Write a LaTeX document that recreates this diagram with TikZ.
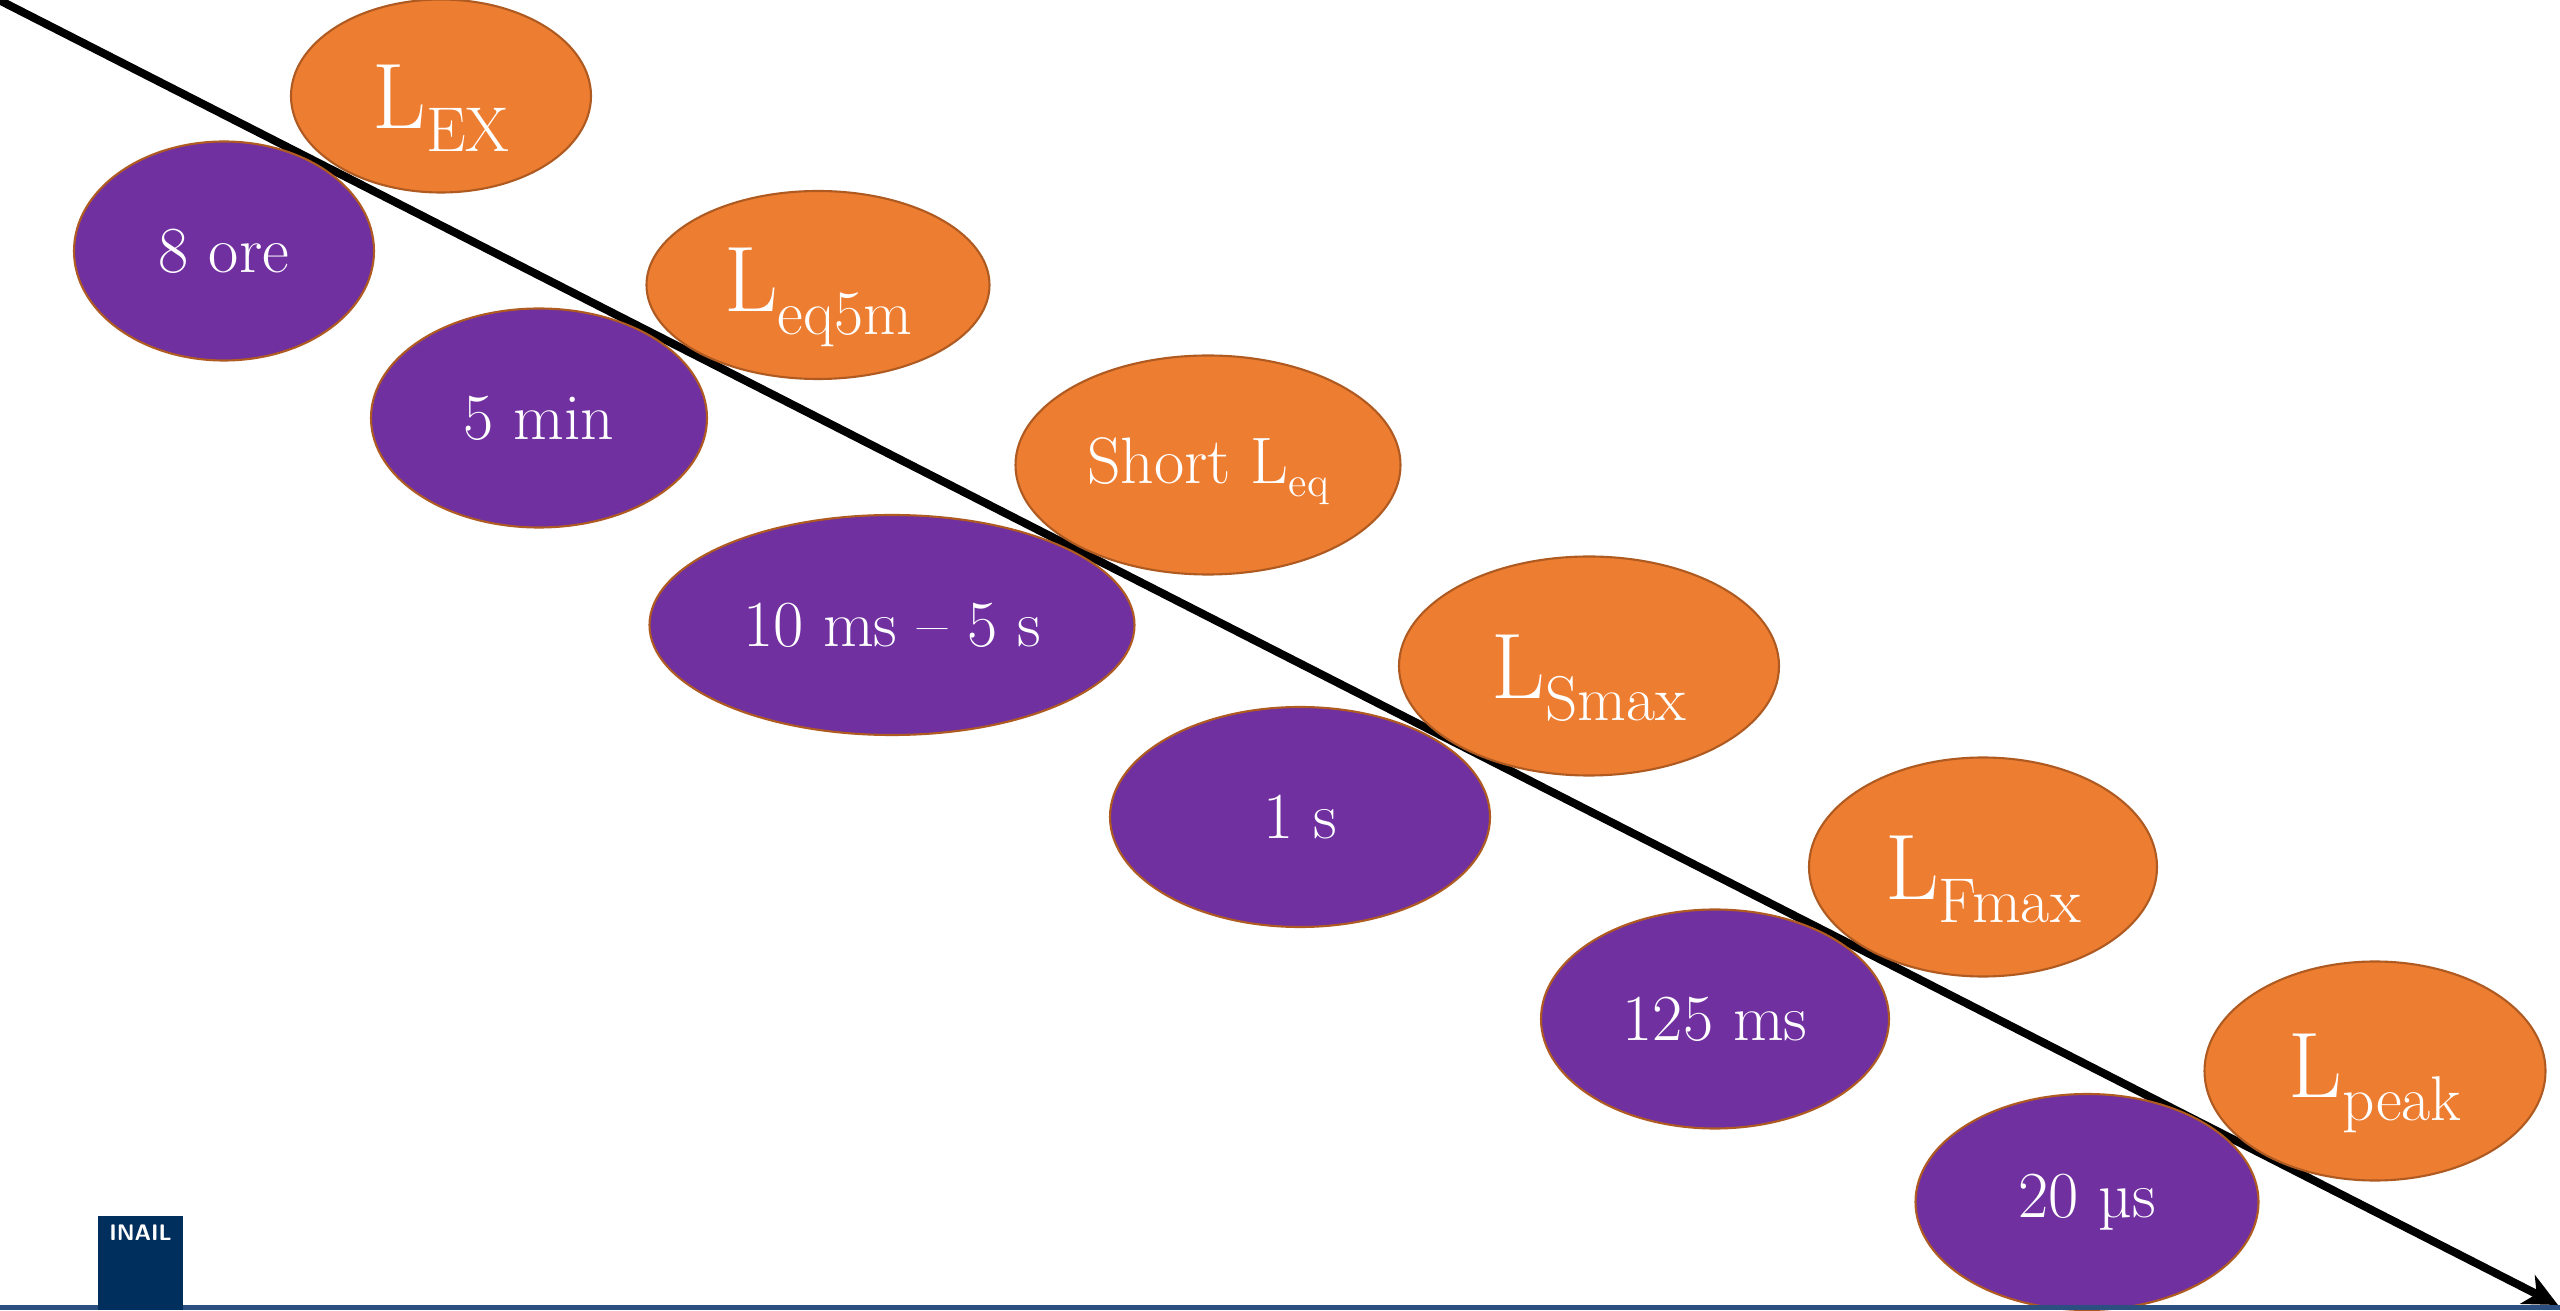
\documentclass[tikz,border=0pt]{standalone}
\usepackage{tikz}
\usepackage{xcolor}
\usetikzlibrary{
    shapes.geometric,
    arrows.meta
}
\definecolor{levelfill}{HTML}{ED7D31}
\definecolor{timefill}{HTML}{7030A0}
\definecolor{edge}{HTML}{AE5A21}
\definecolor{inail}{HTML}{002E5D}
\definecolor{rule}{HTML}{2A4F80}
% Level names: big letter with a lowered index
\newcommand{\levelname}[1]{\rule{0pt}{25pt}{\fontsize{26.5}{26.5}\selectfont L}\raisebox{-6.5pt}{\fontsize{18}{18}\selectfont #1}}
\tikzset{
    % Base bubble style
    bubble/.style={
        ellipse,
        inner sep=0pt,
        align=center,
        text=white,
        font=\fontsize{18.7}{18.7}\selectfont,
        draw=edge,
        line width=0.6pt
    },
    % Metric bubble
    level/.style={
        bubble,
        fill=levelfill
    },
    % Duration bubble
    duration/.style={
        bubble,
        fill=timefill
    },
    % Main arrow
    flow/.style={
        -{Stealth[length=3.4mm, width=3.2mm, inset=1mm]},
        line width=2.3pt,
        color=black
    }
}
\begin{document}
\begin{tikzpicture}
        \useasboundingbox (0, 0) rectangle (25.6, 13.1);

        % Time axis, below the bubbles
        \coordinate (start) at (-0.05, 13.12);
        \coordinate (tip) at (25.58, 0.05);
        \draw[flow] (start) -- (tip);

        % Levels
        \node[level, minimum width=3cm, minimum height=1.93cm] (lex) at (4.41, 12.14) {\levelname{EX}};
        \node[level, minimum width=3.43cm, minimum height=1.88cm] (leq) at (8.18, 10.25) {\levelname{eq5m}};
        \node[level, minimum width=3.85cm, minimum height=2.19cm] (short) at (12.08, 8.45) {\rule{0pt}{16.5pt}Short L\raisebox{-3.5pt}{\fontsize{12}{12}\selectfont eq}};
        \node[level, minimum width=3.8cm, minimum height=2.19cm] (smax) at (15.89, 6.44) {\levelname{Smax}};
        \node[level, minimum width=3.48cm, minimum height=2.19cm] (fmax) at (19.83, 4.43) {\levelname{Fmax}};
        \node[level, minimum width=3.41cm, minimum height=2.19cm] (peak) at (23.75, 2.39) {\levelname{peak}};

        % Durations
        \node[duration, minimum width=3cm, minimum height=2.19cm] (ore) at (2.24, 10.59) {8 ore};
        \node[duration, minimum width=3.36cm, minimum height=2.19cm] (min) at (5.39, 8.92) {5 min};
        \node[duration, minimum width=4.85cm, minimum height=2.2cm] (range) at (8.92, 6.85) {10 ms -- 5 s};
        \node[duration, minimum width=3.8cm, minimum height=2.2cm] (sec) at (13, 4.93) {1 s};
        \node[duration, minimum width=3.48cm, minimum height=2.19cm] (ms) at (17.15, 2.91) {125 ms};
        \node[duration, minimum width=3.43cm, minimum height=2.16cm] (us) at (20.87, 1.08) {20 µs};

        % Footer
        \fill[rule] (0, 0) rectangle (25.6, 0.05);
        \node[fill=inail, minimum width=0.85cm, minimum height=0.94cm, inner sep=0pt] (logo) at (1.405, 0.47) {};
        \node[font=\fontsize{6.4}{6.4}\selectfont\sffamily\bfseries, text=white, inner sep=0pt] (logotext) at (1.405, 0.77) {INAIL};

    \end{tikzpicture}
\end{document}
